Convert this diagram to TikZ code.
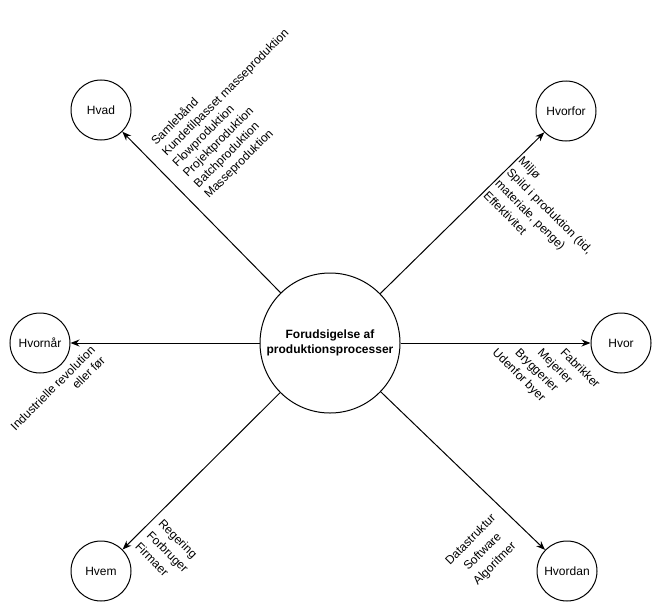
\documentclass[tikz,border=0pt]{standalone}
\usepackage{fontspec}
\setmainfont{Liberation Sans}
\usetikzlibrary{arrows.meta,positioning}

\begin{document}
\begin{tikzpicture}[x=1pt,y=-1pt,>={Stealth[length=9pt,width=7pt]},
  spoke/.style={draw,circle,line width=1pt,minimum size=60pt,inner sep=0pt,font=\fontsize{12}{14.4}\selectfont},
  hub/.style={draw,circle,line width=1pt,minimum size=140pt,inner sep=0pt,align=center,font=\fontsize{12}{14.4}\selectfont\bfseries},
  note/.style={inner sep=0pt,font=\fontsize{12}{#1}\selectfont},
  note/.default=14.4]
\useasboundingbox (0,0) rectangle (652,602);

% middle and the six questions
\node[hub] (fpp) at (330,343) {Forudsigelse af\\produktionsprocesser};
\node[spoke] (hvad) at (101,110) {Hvad};
\node[spoke] (hvorfor) at (566,111) {Hvorfor};
\node[spoke] (hvornaar) at (40,343) {Hvornår};
\node[spoke] (hvor) at (621,343) {Hvor};
\node[spoke] (hvem) at (101,571) {Hvem};
\node[spoke] (hvordan) at (567,571) {Hvordan};

\draw[->,line width=1pt] (fpp) -- (hvad);
\draw[->,line width=1pt] (fpp) -- (hvorfor);
\draw[->,line width=1pt] (fpp) -- (hvornaar);
\draw[->,line width=1pt] (fpp) -- (hvor);
\draw[->,line width=1pt] (fpp) -- (hvem);
\draw[->,line width=1pt] (fpp) -- (hvordan);

% rotated notes along the arrows
\node[note=15,rotate=45,align=left,anchor=west] (hvadtxt) at (180,170)
  {Samlebånd\\Kundetilpasset masseproduktion\\Flowproduktion\\Projektproduktion\\Batchproduktion\\Masseproduktion};
\node[note=16.5,rotate=-45,align=left,anchor=north west] (hvorfortxt) at (524,155)
  {Miljø\\Spild i produktion (tid,\\materiale, penge)\\Effektivitet};
\node[note,rotate=45,align=right,anchor=east] (hvornaartxt) at (98,353)
  {Industrielle revolution\\eller før};
\node[note=16,rotate=-45,align=left,anchor=north west] (hvortxt) at (532,313)
  {\hspace*{48pt}Fabrikker\\\hspace*{32pt}Mejerier\\\hspace*{16pt}Bryggerier\\Udenfor byer};
\node[note=16.5,rotate=-45,align=left,anchor=north west] (hvemtxt) at (164,518)
  {Regering\\Forbruger\\Firmaer};
\node[note=17,rotate=45,align=center] (hvordantxt) at (483,552)
  {Datastruktur\\Software\\Algoritmer};
\end{tikzpicture}
\end{document}
